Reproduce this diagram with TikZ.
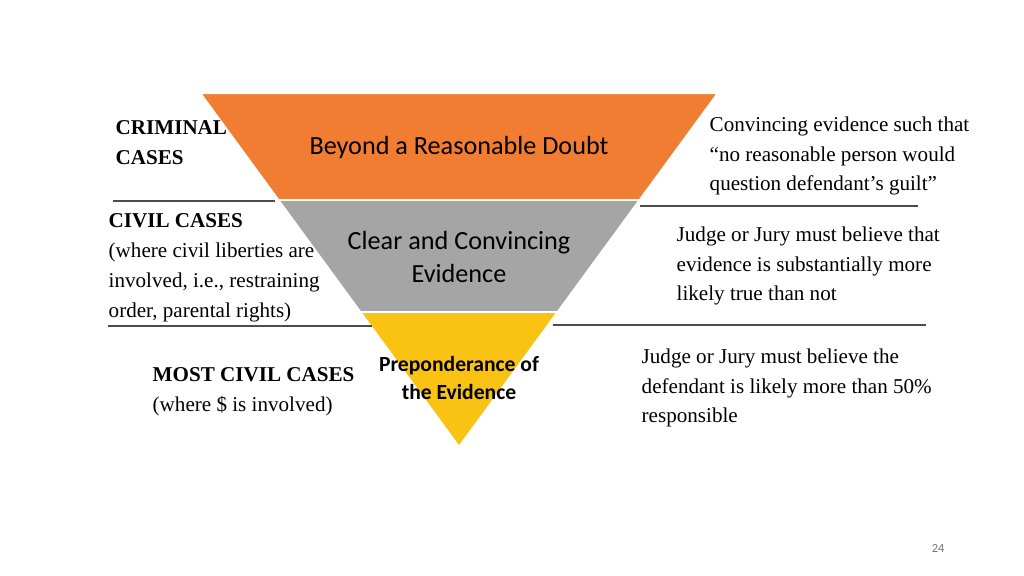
\documentclass[tikz,border=0pt]{standalone}
\usepackage{fontspec}
\setmainfont{Liberation Serif}
\newfontfamily\calfont{Carlito}
\definecolor{bandorange}{RGB}{240,125,50}
\definecolor{bandgray}{RGB}{165,165,165}
\definecolor{bandyellow}{RGB}{250,195,20}
\begin{document}
\begin{tikzpicture}[x=0.01cm,y=-0.01cm]
    \tikzset{side/.style={align=left,anchor=west,font=\fontsize{6}{8.5}\selectfont,inner sep=0pt},
             band/.style={align=center,font=\calfont\fontsize{7.45}{9.4}\selectfont},
             rule/.style={draw=black!70,line width=0.4pt}}
    \useasboundingbox[fill=white] (0,0) rectangle (1024,576);

    % the three bands of the triangle
    \fill[bandorange] (200,93) -- (718,93) -- (640,200) -- (278,200) -- cycle;
    \fill[bandgray] (278,200) -- (640,200) -- (558,312) -- (360,312) -- cycle;
    \fill[bandyellow] (360,312) -- (558,312) -- (459,447) -- cycle;
    \draw[white,line width=0.6pt] (200,93) -- (718,93) -- (459,447) -- cycle;
    \draw[white,line width=0.6pt] (278,200) -- (640,200) (360,312) -- (558,312);

    \node[band] (brd) at (459,148) {Beyond a Reasonable Doubt};
    \node[band] (cce) at (459,257) {Clear and Convincing\\Evidence};
    \node[band,font=\calfont\bfseries\fontsize{6.15}{8}\selectfont] (pre) at (459,378) {Preponderance of\\the Evidence};

    % dividing rules
    \coordinate (l1a) at (113,201); \coordinate (l1b) at (275,201);
    \coordinate (r1a) at (640,206); \coordinate (r1b) at (918,206);
    \coordinate (l2a) at (108,326); \coordinate (l2b) at (372,326);
    \coordinate (r2a) at (553,325); \coordinate (r2b) at (926,325);
    \draw[rule] (l1a) -- (l1b);
    \draw[rule] (r1a) -- (r1b);
    \draw[rule] (l2a) -- (l2b);
    \draw[rule] (r2a) -- (r2b);

    % left side labels
    \node[side] (crim) at (115,143) {\textbf{CRIMINAL}\\\textbf{CASES}};
    \node[side] (civ) at (108,268) {\textbf{CIVIL CASES}\\(where civil liberties are\\involved, i.e., restraining\\order, parental rights)};
    \node[side] (most) at (152,392) {\textbf{MOST CIVIL CASES}\\(where \$ is involved)};

    % right side labels
    \node[side] (rcrim) at (709,156) {Convincing evidence such that\\``no reasonable person would\\question defendant's guilt''};
    \node[side] (rciv) at (676,266) {Judge or Jury must believe that\\evidence is substantially more\\likely true than not};
    \node[side] (rmost) at (641,388) {Judge or Jury must believe the\\defendant is likely more than 50\%\\responsible};

    \node[text=black!55,font=\calfont\fontsize{3.5}{4}\selectfont] (pg) at (938,549) {24};
\end{tikzpicture}
\end{document}
